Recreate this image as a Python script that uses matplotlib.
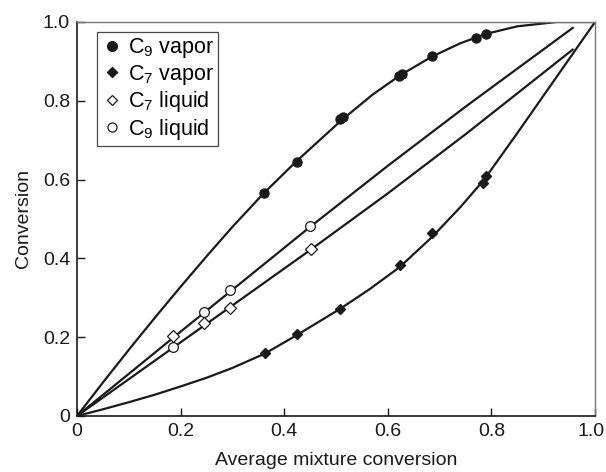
import matplotlib
matplotlib.use("Agg")
import matplotlib.pyplot as plt
import matplotlib.transforms as mtransforms
from matplotlib.lines import Line2D

plt.rcParams['font.family'] = ['Liberation Sans', 'DejaVu Sans']
plt.rcParams['mathtext.fontset'] = 'custom'
plt.rcParams['mathtext.rm'] = 'Liberation Sans'

# measured points
c9_vap_x = [0.361, 0.424, 0.508, 0.514, 0.621, 0.628, 0.685, 0.77, 0.79]
c9_vap_y = [0.567, 0.645, 0.755, 0.760, 0.863, 0.867, 0.914, 0.960, 0.970]
c7_vap_x = [0.362, 0.424, 0.508, 0.623, 0.686, 0.783, 0.790]
c7_vap_y = [0.161, 0.207, 0.271, 0.382, 0.464, 0.592, 0.609]
c7_liq_x = [0.186, 0.246, 0.295, 0.451]
c7_liq_y = [0.203, 0.236, 0.274, 0.423]
c9_liq_x = [0.186, 0.246, 0.295, 0.450]
c9_liq_y = [0.175, 0.264, 0.320, 0.482]

# fitted curves
c9_vap_cx = [0, 0.05, 0.1, 0.15, 0.2, 0.25, 0.3, 0.361, 0.424, 0.51, 0.57, 0.624, 0.685, 0.74, 0.79, 0.85, 0.926, 1.0]
c9_vap_cy = [0, 0.085, 0.168, 0.249, 0.328, 0.405, 0.48, 0.566, 0.647, 0.750, 0.815, 0.865, 0.912, 0.946, 0.970, 0.989, 1.0, 1.0]
c7_vap_cx = [0, 0.05, 0.1, 0.15, 0.2, 0.25, 0.3, 0.362, 0.424, 0.508, 0.565, 0.623, 0.686, 0.74, 0.786, 0.85, 0.9, 0.95, 1.0]
c7_vap_cy = [0, 0.017, 0.035, 0.054, 0.075, 0.097, 0.122, 0.158, 0.205, 0.272, 0.322, 0.378, 0.455, 0.53, 0.600, 0.718, 0.812, 0.906, 1.0]
c9_liq_cx = [0, 0.2, 0.45, 0.6, 0.75, 0.957]
c9_liq_cy = [0, 0.214, 0.480, 0.635, 0.785, 0.985]
c7_liq_cx = [0, 0.2, 0.45, 0.6, 0.75, 0.957]
c7_liq_cy = [0, 0.187, 0.421, 0.565, 0.715, 0.930]

ticks = [0, 0.2, 0.4, 0.6, 0.8, 1.0]
tick_labels = ['0', '0.2', '0.4', '0.6', '0.8', '1.0']

ink = '#1a1a1a'
fig = plt.figure(figsize=(6.06, 4.72), dpi=100)
# axes box in pixels: x 77..595, y 22..416
ax = fig.add_axes([77 / 606, 1 - 416 / 472, 518 / 606, 394 / 472])

for cx, cy in [(c9_vap_cx, c9_vap_cy), (c7_vap_cx, c7_vap_cy),
               (c9_liq_cx, c9_liq_cy), (c7_liq_cx, c7_liq_cy)]:
    ax.plot(cx, cy, color=ink, lw=1.6, solid_joinstyle='round', zorder=2)

ax.plot(c9_vap_x, c9_vap_y, 'o', ms=6.5, color=ink, zorder=3)
ax.plot(c7_vap_x, c7_vap_y, 'D', ms=5, color=ink, zorder=3)
ax.plot(c7_liq_x, c7_liq_y, 'D', ms=6, mfc='white', mec=ink, mew=0.9, zorder=3)
ax.plot(c9_liq_x, c9_liq_y, 'o', ms=7, mfc='white', mec=ink, mew=0.9, zorder=3)

ax.set_xlim(0, 1)
ax.set_ylim(0, 1)
ax.set_xticks(ticks)
ax.set_xticklabels(tick_labels)
ax.set_yticks(ticks)
ax.set_yticklabels(tick_labels)
ax.tick_params(direction='in', length=6, width=1, labelsize=14, colors=ink)
ax.tick_params(axis='x', pad=5)
ax.tick_params(axis='y', pad=5)
# last x label sits a little left of its tick, as in the original
last = ax.get_xticklabels()[-1]
last.set_transform(last.get_transform() + mtransforms.ScaledTranslation(-4 / 100, 0, fig.dpi_scale_trans))
for s in ['left', 'bottom']:
    ax.spines[s].set_color(ink)
    ax.spines[s].set_linewidth(1.2)
for s in ['top', 'right']:
    ax.spines[s].set_color('#777777')
    ax.spines[s].set_linewidth(1.0)

ax.set_xlabel('Average mixture conversion', fontsize=14, color=ink, labelpad=9)
ax.set_ylabel('Conversion', fontsize=14, color=ink, labelpad=8)

handles = [
    Line2D([], [], ls='', marker='o', ms=7, color=ink),
    Line2D([], [], ls='', marker='D', ms=5.5, color=ink),
    Line2D([], [], ls='', marker='D', ms=5.5, mfc='white', mec=ink, mew=0.9),
    Line2D([], [], ls='', marker='o', ms=6.5, mfc='white', mec=ink, mew=0.9),
]
labels = ['C$_9$ vapor', 'C$_7$ vapor', 'C$_7$ liquid', 'C$_9$ liquid']
leg = ax.legend(handles, labels, loc='upper left', bbox_to_anchor=(19.7 / 518, 1 - 10 / 394),
                fontsize=15.5, frameon=True, fancybox=False, edgecolor=ink,
                handlelength=1.02, handletextpad=0.23, borderpad=0.19, labelspacing=0.12,
                borderaxespad=0)
leg.get_frame().set_linewidth(0.9)

fig.savefig('out.png', dpi=100)
